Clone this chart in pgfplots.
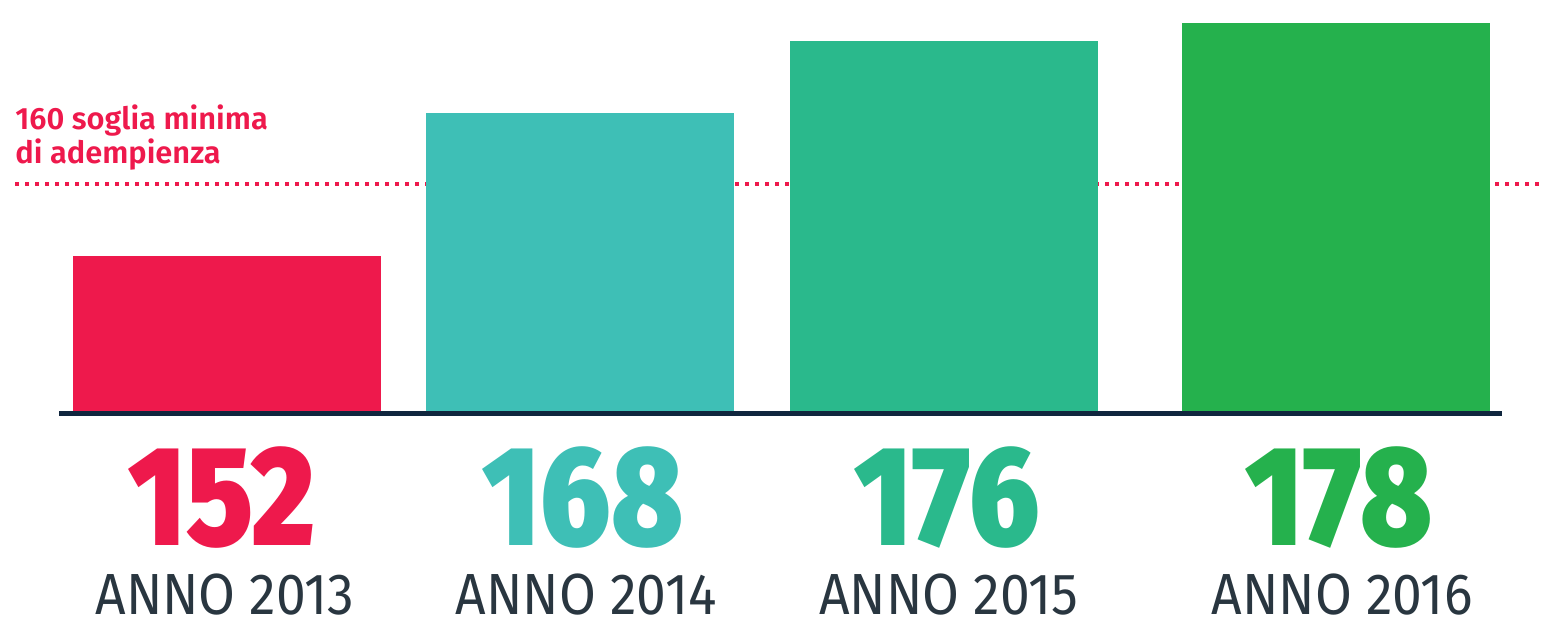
\documentclass[border=0pt]{standalone}
\usepackage{pgfplots}
\pgfplotsset{compat=1.18}
\usepackage{fontspec}
\setmainfont{Fira Sans}[FakeStretch=0.92]
\newfontfamily\numfont{Fira Sans Black}[FakeStretch=0.85]
\newfontfamily\medfont{Fira Sans SemiBold}
\definecolor{cred}{HTML}{EE194C}
\definecolor{cteal}{HTML}{3EBFB6}
\definecolor{cgreenA}{HTML}{2AB98C}
\definecolor{cgreenB}{HTML}{25B14D}
\definecolor{ctext}{HTML}{293640}
\definecolor{cbase}{HTML}{10263E}
\tikzset{
  numlab/.style={anchor=base, inner sep=0pt, text depth=0pt, font=\numfont\fontsize{71}{71}\selectfont, yshift=-66pt},
  yearlab/.style={anchor=base, inner sep=0pt, text depth=0pt, text height=20pt, text=ctext, font=\fontsize{29}{29}\selectfont, yshift=-100.5pt},
  notelab/.style={anchor=base west, inner sep=0pt, text=cred, font=\medfont\fontsize{15.4}{17}\selectfont}
}
\begin{document}
\begin{tikzpicture}
\useasboundingbox (0,-102.25pt) rectangle (771pt,206.75pt);
\begin{axis}[scale only axis, width=771pt, height=206.75pt,
  xmin=0, xmax=1542, ymin=134.4, ymax=180.6,
  hide axis, clip mode=individual]
\addplot[cred, line width=2pt, dash pattern=on 2pt off 3pt] coordinates {(15,160) (1542,160)};
\addplot[ybar, bar width=308, bar shift=0pt, fill=cred, draw=none] coordinates {(227,152)};
\addplot[ybar, bar width=308, bar shift=0pt, fill=cteal, draw=none] coordinates {(580,168)};
\addplot[ybar, bar width=308, bar shift=0pt, fill=cgreenA, draw=none] coordinates {(944,176)};
\addplot[ybar, bar width=308, bar shift=0pt, fill=cgreenB, draw=none] coordinates {(1336,178)};
\draw[cbase, line width=2.5pt] (axis cs:59,134.4) -- (axis cs:1502,134.4);
\node[notelab, yshift=27.5pt] at (axis cs:15,160) {160 soglia minima};
\node[notelab, yshift=10.5pt] at (axis cs:15,160) {di adempienza};
\node[numlab, text=cred] at (axis cs:222,134.4) {152};
\node[numlab, text=cteal] at (axis cs:583,134.4) {168};
\node[numlab, text=cgreenA] at (axis cs:947,134.4) {176};
\node[numlab, text=cgreenB] at (axis cs:1339,134.4) {178};
\node[yearlab] at (axis cs:225,134.4) {ANNO 2013};
\node[yearlab] at (axis cs:586,134.4) {ANNO 2014};
\node[yearlab] at (axis cs:949,134.4) {ANNO 2015};
\node[yearlab] at (axis cs:1342,134.4) {ANNO 2016};
\end{axis}
\end{tikzpicture}
\end{document}
